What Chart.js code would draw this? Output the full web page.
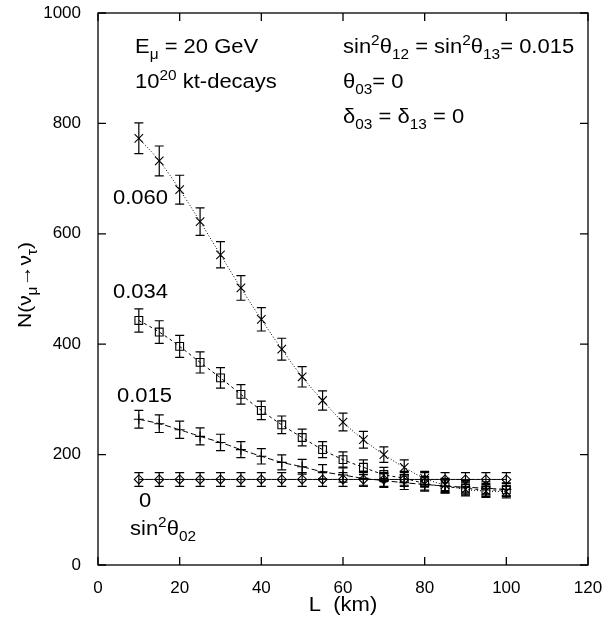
<!DOCTYPE html>
<html lang="en">
<head>
<meta charset="UTF-8">
<title>N(nu_mu -> nu_tau) vs L</title>
<script src="https://cdn.jsdelivr.net/npm/chart.js"></script>
<style>
  body { margin: 0; background: #fff; }
  #wrap { width: 603px; height: 623px; }
</style>
</head>
<body>
<div id="wrap"><canvas id="chart" width="603" height="623"></canvas></div>
<script>
// baseline distances (km)
const distances = [10, 15, 20, 25, 30, 35, 40, 45, 50, 55, 60, 65, 70, 75, 80, 85, 90, 95, 100];

// event counts for each sin^2(theta_02)
const counts060 = [773, 732, 680, 622, 562, 502, 445, 391, 341, 298, 259, 227, 200, 177, 157, 145, 137, 134, 133];
const counts034 = [443, 422, 396, 367, 339, 309, 280, 254, 231, 209, 191, 177, 164, 157, 148, 142, 139, 136, 136];
const counts015 = [264, 256, 245, 233, 222, 209, 197, 186, 178, 169, 163, 157, 153, 149, 146, 143, 141, 139, 137];
const counts000 = [155, 155, 155, 155, 155, 155, 155, 155, 155, 155, 155, 155, 155, 155, 155, 155, 155, 155, 155];

// statistical errors (half length of the bars)
const err060 = [27.8, 27.1, 26.1, 24.9, 23.7, 22.4, 21.1, 19.8, 18.5, 17.3, 16.1, 15.1, 14.1, 13.3, 12.5, 12.0, 11.7, 11.6, 11.5];
const err034 = [21.0, 20.5, 19.9, 19.2, 18.4, 17.6, 16.7, 15.9, 15.2, 14.5, 13.8, 13.3, 12.8, 12.5, 12.2, 11.9, 11.8, 11.7, 11.7];
const err015 = [16.2, 16.0, 15.7, 15.3, 14.9, 14.5, 14.0, 13.6, 13.3, 13.0, 12.8, 12.5, 12.4, 12.2, 12.1, 12.0, 11.9, 11.8, 11.7];
const err000 = [12.4, 12.4, 12.4, 12.4, 12.4, 12.4, 12.4, 12.4, 12.4, 12.4, 12.4, 12.4, 12.4, 12.4, 12.4, 12.4, 12.4, 12.4, 12.4];

const xTicks = [0, 20, 40, 60, 80, 100, 120];
const yTicks = [0, 200, 400, 600, 800, 1000];

const FONT = '"Liberation Sans", Arial, sans-serif';
const STRETCH = 1.1;   // the original lettering is a bit wide

function pts(ys) {
    return distances.map((x, i) => ({ x: x, y: ys[i] }));
}

function series(ys, errs, style, dash, radius) {
    return {
        data: pts(ys),
        errors: errs,
        borderColor: '#000',
        backgroundColor: 'rgba(0,0,0,0)',
        borderWidth: 1,
        borderDash: dash,
        tension: 0.4,
        pointStyle: style,
        pointRadius: radius,
        pointBorderColor: '#000',
        pointBorderWidth: 1.1,
        pointBackgroundColor: 'rgba(0,0,0,0)'
    };
}

// draws text made of pieces: normal, superscript, subscript
function richText(ctx, x, y, parts, size, align) {
    const small = Math.round(size * 0.72);
    let total = 0;
    parts.forEach(p => {
        ctx.font = (p.s ? small : size) + 'px ' + FONT;
        total += ctx.measureText(p.t).width;
    });
    ctx.save();
    ctx.translate(x, y);
    ctx.scale(STRETCH, 1);
    let cx = align === 'center' ? -total / 2 : 0;
    ctx.textAlign = 'left';
    ctx.textBaseline = 'alphabetic';
    parts.forEach(p => {
        ctx.font = (p.s ? small : size) + 'px ' + FONT;
        let dy = 0;
        if (p.s === 'sub') dy = size * 0.3;
        if (p.s === 'sup') dy = -size * 0.4;
        ctx.fillText(p.t, cx, dy);
        cx += ctx.measureText(p.t).width;
    });
    ctx.restore();
}

const decorPlugin = {
    id: 'decor',
    afterDatasetsDraw(chart) {
        const ctx = chart.ctx;
        const xs = chart.scales.x, ys = chart.scales.y;
        const area = chart.chartArea;
        ctx.save();
        ctx.strokeStyle = '#000';
        ctx.fillStyle = '#000';
        ctx.lineWidth = 1.2;

        // error bars
        chart.data.datasets.forEach(ds => {
            ds.data.forEach((p, i) => {
                const e = ds.errors[i];
                const px = xs.getPixelForValue(p.x);
                const y1 = ys.getPixelForValue(p.y - e);
                const y2 = ys.getPixelForValue(p.y + e);
                ctx.beginPath();
                ctx.moveTo(px, y1); ctx.lineTo(px, y2);
                ctx.moveTo(px - 4.5, y1); ctx.lineTo(px + 4.5, y1);
                ctx.moveTo(px - 4.5, y2); ctx.lineTo(px + 4.5, y2);
                ctx.stroke();
            });
        });

        // frame and inward ticks
        ctx.lineWidth = 1.3;
        ctx.strokeRect(area.left, area.top, area.right - area.left, area.bottom - area.top);
        ctx.beginPath();
        xTicks.forEach(v => {
            const px = xs.getPixelForValue(v);
            ctx.moveTo(px, area.bottom); ctx.lineTo(px, area.bottom - 8);
            ctx.moveTo(px, area.top); ctx.lineTo(px, area.top + 8);
        });
        yTicks.forEach(v => {
            const py = ys.getPixelForValue(v);
            ctx.moveTo(area.left, py); ctx.lineTo(area.left + 8, py);
            ctx.moveTo(area.right, py); ctx.lineTo(area.right - 8, py);
        });
        ctx.stroke();

        // curve labels
        richText(ctx, 113, 204, [{ t: '0.060' }], 20, 'left');
        richText(ctx, 113, 298, [{ t: '0.034' }], 20, 'left');
        richText(ctx, 117, 402, [{ t: '0.015' }], 20, 'left');
        richText(ctx, 139, 507, [{ t: '0' }], 20, 'left');
        richText(ctx, 130, 535, [{ t: 'sin' }, { t: '2', s: 'sup' }, { t: 'θ' }, { t: '02', s: 'sub' }], 20, 'left');

        // parameter boxes
        richText(ctx, 135, 53, [{ t: 'E' }, { t: 'μ', s: 'sub' }, { t: ' = 20 GeV' }], 20, 'left');
        richText(ctx, 135, 88, [{ t: '10' }, { t: '20', s: 'sup' }, { t: ' kt-decays' }], 20, 'left');
        richText(ctx, 343, 53, [{ t: 'sin' }, { t: '2', s: 'sup' }, { t: 'θ' }, { t: '12', s: 'sub' },
            { t: ' = sin' }, { t: '2', s: 'sup' }, { t: 'θ' }, { t: '13', s: 'sub' }, { t: '= 0.015' }], 20, 'left');
        richText(ctx, 343, 88, [{ t: 'θ' }, { t: '03', s: 'sub' }, { t: '= 0' }], 20, 'left');
        richText(ctx, 343, 123, [{ t: 'δ' }, { t: '03', s: 'sub' }, { t: ' = δ' }, { t: '13', s: 'sub' }, { t: ' = 0' }], 20, 'left');

        // axis titles
        richText(ctx, 343, 611, [{ t: 'L  (km)' }], 20, 'center');
        ctx.translate(31, 285);
        ctx.rotate(-Math.PI / 2);
        richText(ctx, 0, 0, [{ t: 'N(ν' }, { t: 'μ', s: 'sub' }, { t: '→ν' }, { t: 'τ', s: 'sub' }, { t: ')' }], 19, 'center');
        ctx.restore();
    }
};

new Chart(document.getElementById('chart'), {
    type: 'line',
    data: {
        datasets: [
            series(counts060, err060, 'crossRot', [1, 2], 6),
            series(counts034, err034, 'rect', [3, 3], 5.5),
            series(counts015, err015, 'cross', [6, 3], 5),
            series(counts000, err000, 'rectRot', [], 4.5)
        ]
    },
    options: {
        responsive: false,
        animation: false,
        layout: { padding: { top: 13, right: 15, left: 0, bottom: 0 } },
        plugins: { legend: { display: false }, tooltip: { enabled: false } },
        scales: {
            x: {
                type: 'linear',
                min: 0, max: 120,
                afterFit: s => { s.height = 58; s.paddingLeft = 0; s.paddingRight = 0; },
                afterBuildTicks: s => { s.ticks = xTicks.map(v => ({ value: v })); },
                grid: { display: false },
                border: { display: false },
                ticks: { color: '#000', padding: 5, maxRotation: 0, font: { family: FONT, size: 17 } }
            },
            y: {
                type: 'linear',
                min: 0, max: 1000,
                afterFit: s => { s.width = 98; s.paddingTop = 0; s.paddingBottom = 0; },
                afterBuildTicks: s => { s.ticks = yTicks.map(v => ({ value: v })); },
                grid: { display: false },
                border: { display: false },
                ticks: {
                    color: '#000', padding: 9, font: { family: FONT, size: 17 },
                    callback: v => String(v)
                }
            }
        }
    },
    plugins: [decorPlugin]
});
</script>
</body>
</html>
